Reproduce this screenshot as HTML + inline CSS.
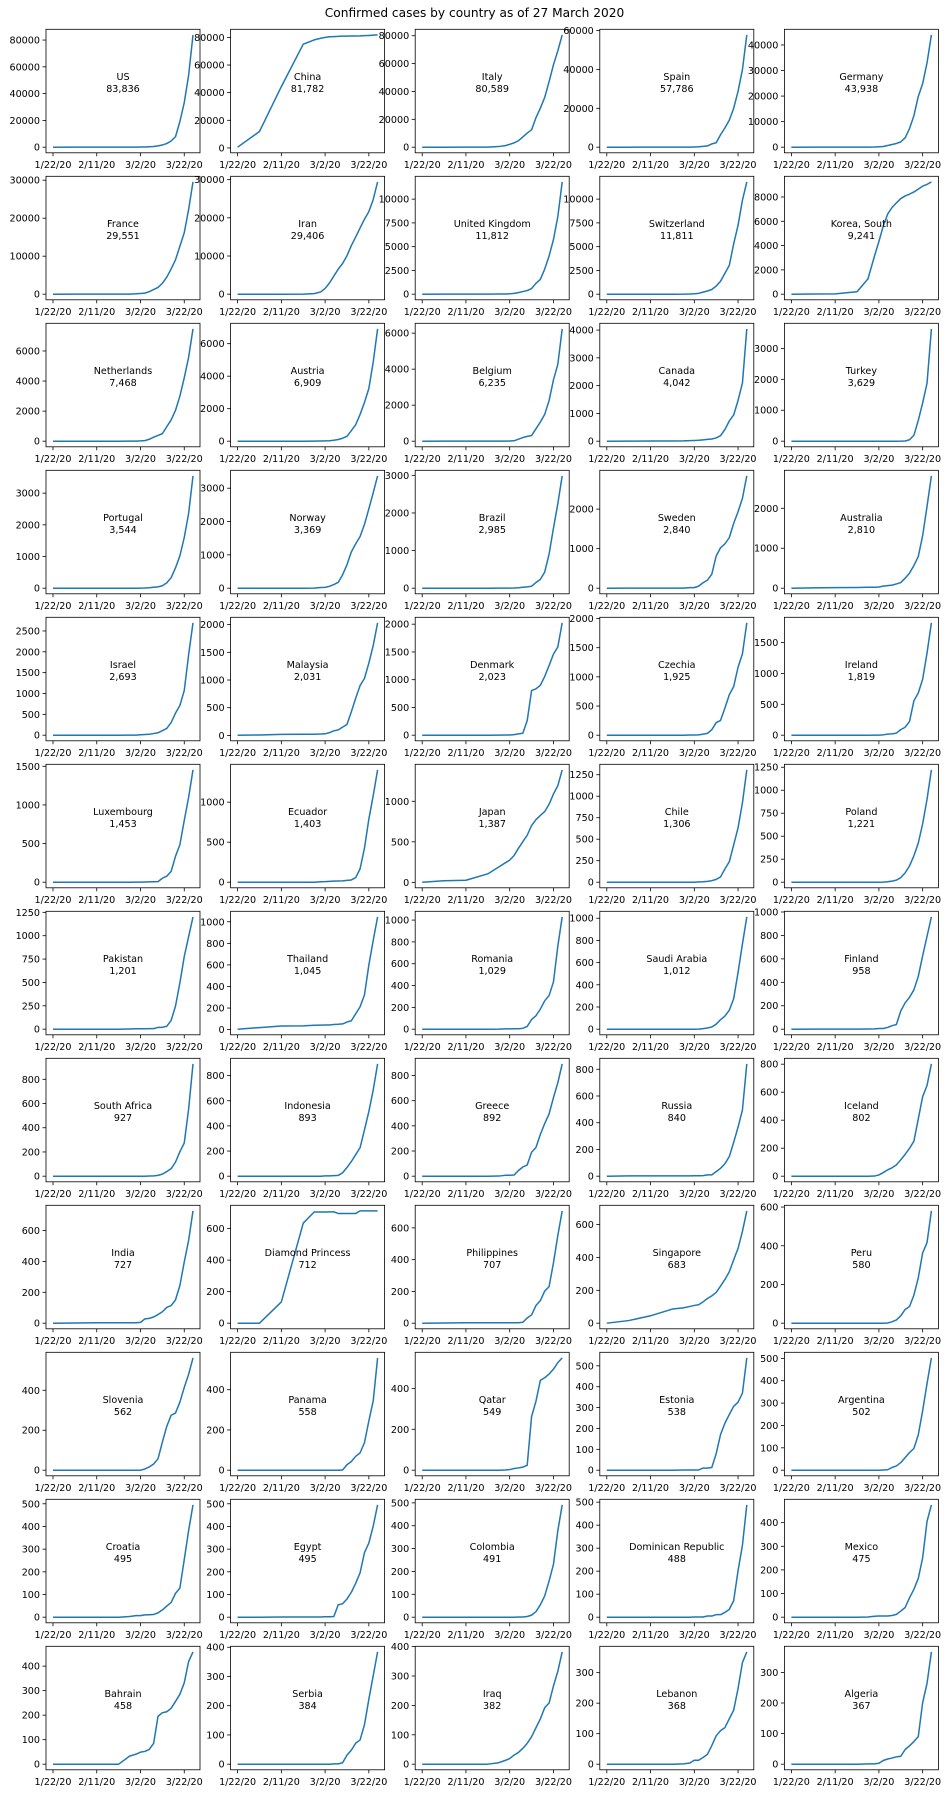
<!DOCTYPE html>
<html><head><meta charset="utf-8"><style>
html,body{margin:0;padding:0;background:#fff;}
svg{display:block;font-family:"DejaVu Sans","Liberation Sans",sans-serif;}
</style></head><body>
<svg id="fig" width="949" height="1793" viewBox="0 0 949 1793" xmlns="http://www.w3.org/2000/svg">
<rect width="949" height="1793" fill="#fff"/>
<text x="474.5" y="17" text-anchor="middle" font-size="12.2" fill="#000">Confirmed cases by country as of 27 March 2020</text>
</svg>
<script>
// sample day indices (days since 1/22/20)
const sampleDays = [0,10,20,30,35,38,40,42,44,46,48,50,52,54,56,58,60,62,64];
const xTickDays = [0,20,40,60];
const xTickLabels = ["1/22/20","2/11/20","3/2/20","3/22/20"];
const countries = ["US","China","Italy","Spain","Germany","France","Iran","United Kingdom","Switzerland","Korea, South","Netherlands","Austria","Belgium","Canada","Turkey","Portugal","Norway","Brazil","Sweden","Australia","Israel","Malaysia","Denmark","Czechia","Ireland","Luxembourg","Ecuador","Japan","Chile","Poland","Pakistan","Thailand","Romania","Saudi Arabia","Finland","South Africa","Indonesia","Greece","Russia","Iceland","India","Diamond Princess","Philippines","Singapore","Peru","Slovenia","Panama","Qatar","Estonia","Argentina","Croatia","Egypt","Colombia","Dominican Republic","Mexico","Bahrain","Serbia","Iraq","Lebanon","Algeria"];
const sUS = [1,8,13,15,57,68,100,158,319,537,959,1663,2727,4632,7783,19100,33276,53740,83836];
const sChina = [548,11891,44386,75077,78166,79356,80026,80422,80573,80735,80908,80932,81003,81033,81102,81250,81397,81591,81782];
const sItaly = [0,0,3,20,453,1128,2036,3089,4636,7375,10149,12462,21157,27980,35713,47021,59138,69176,80589];
const sSpain = [0,0,2,2,13,45,120,222,400,673,1695,2277,6391,9942,13910,19980,28768,39885,57786];
const sGermany = [0,8,16,16,27,79,159,262,670,1040,1457,2078,3675,7272,12327,19848,24873,32986,43938];
const sFrance = [0,6,11,12,18,100,191,285,656,1209,1787,2876,4480,6650,9052,12612,16176,22304,29551];
const sIran = [0,0,0,5,139,593,1501,2922,4747,6566,8042,10075,12729,14991,17361,19644,21638,24811,29406];
const sUK = [0,2,8,9,13,23,40,86,164,274,383,596,1143,1551,2642,4014,5745,8164,11812];
const sSwitzerland = [0,0,0,0,1,18,42,90,214,337,491,858,1359,2200,3028,5294,7245,9877,11811];
const sKorea = [1,12,28,204,1261,3150,4335,5621,6593,7134,7513,7869,8086,8236,8413,8652,8897,9037,9241];
const sNetherlands = [0,0,0,0,1,6,18,38,128,265,382,503,959,1414,2051,2994,4216,5585,7468];
const sAustria = [0,0,0,0,2,9,18,29,55,104,182,302,655,1018,1646,2388,3244,4876,6909];
const sBelgium = [0,1,1,1,1,1,8,23,109,200,267,314,689,1058,1486,2257,3401,4269,6235];
const sCanada = [0,2,5,8,11,20,27,33,49,64,79,117,198,424,727,943,1465,2088,4042];
const sTurkey = [0,0,0,0,0,0,0,0,0,0,0,1,5,47,191,670,1236,1872,3629];
const sPortugal = [0,0,0,0,0,0,2,5,13,30,41,78,169,331,642,1020,1600,2362,3544];
const sNorway = [0,0,0,0,1,19,25,56,108,176,400,702,1090,1333,1550,1914,2383,2866,3369];
const sBrazil = [0,0,0,0,1,2,2,4,13,25,34,52,151,234,428,904,1593,2247,2985];
const sSweden = [0,1,1,1,2,13,14,52,137,203,355,814,1022,1121,1279,1639,1934,2272,2840];
const sAustralia = [0,9,15,17,22,25,30,52,63,76,107,140,250,377,568,791,1314,2044,2810];
const sIsrael = [0,0,0,0,1,2,10,15,21,39,58,109,161,304,529,712,1071,1930,2693];
const sMalaysia = [4,8,18,22,22,25,29,50,83,99,149,197,428,673,900,1030,1306,1624,2031];
const sDenmark = [0,0,0,0,1,3,4,10,23,35,262,804,836,898,1057,1255,1460,1591,2023];
const sCzechia = [0,0,0,0,0,3,3,5,19,31,94,214,253,464,694,833,1165,1394,1925];
const sIreland = [0,0,0,0,0,1,1,6,18,21,34,90,129,223,557,683,906,1329,1819];
const sLuxembourg = [0,0,0,0,0,1,1,2,4,5,7,51,77,140,335,484,798,1099,1453];
const sEcuador = [0,0,0,0,0,6,7,10,14,15,17,23,28,58,168,426,789,1082,1403];
const sJapan = [2,20,26,105,189,241,274,331,420,502,581,701,773,825,873,963,1089,1193,1387];
const sChile = [0,0,0,0,0,0,0,3,5,10,17,33,61,155,238,434,632,922,1306];
const sPoland = [0,0,0,0,0,0,0,1,5,11,22,49,101,177,287,425,634,901,1221];
const sPakistan = [0,0,0,0,2,4,5,5,6,6,19,20,31,94,247,495,776,991,1201];
const sThailand = [4,19,33,35,40,42,43,43,48,50,53,70,82,147,212,322,599,827,1045];
const sRomania = [0,0,0,0,1,3,3,4,4,8,25,89,123,184,260,308,433,762,1029];
const sSaudi = [0,0,0,0,0,0,0,1,5,11,20,45,86,118,171,274,511,767,1012];
const sFinland = [0,1,1,1,2,3,6,6,15,30,40,155,225,272,336,450,626,792,958];
const sSouthAfrica = [0,0,0,0,0,0,0,0,2,3,7,17,38,62,116,202,274,554,927];
const sIndonesia = [0,0,0,0,0,0,2,2,4,6,27,69,117,172,227,369,514,686,893];
const sGreece = [0,0,0,0,1,7,7,9,45,73,89,190,228,331,418,495,624,743,892];
const sRussia = [0,2,2,2,2,2,3,3,4,10,10,34,59,93,147,253,367,495,840];
const sIceland = [0,0,0,0,0,1,9,26,45,60,81,117,156,199,250,409,568,648,802];
const sIndia = [0,1,3,3,3,3,5,28,31,40,56,74,102,114,151,244,396,536,727];
const sDiamond = [0,0,135,634,705,705,705,706,706,696,696,696,696,696,712,712,712,712,712];
const sPhilippines = [0,1,3,3,3,3,3,3,3,6,33,52,111,142,202,230,380,552,707];
const sSingapore = [0,16,45,86,93,102,108,112,130,150,166,187,226,266,313,385,455,558,683];
const sPeru = [0,0,0,0,0,0,0,0,1,7,17,38,71,86,145,234,363,416,580];
const sSlovenia = [0,0,0,0,0,0,0,6,16,31,57,141,219,275,286,341,414,480,562];
const sPanama = [0,0,0,0,0,0,0,0,0,0,1,27,43,69,86,137,245,345,558];
const sQatar = [0,0,0,0,0,1,3,8,11,15,24,262,337,439,452,470,494,526,549];
const sEstonia = [0,0,0,0,1,1,1,1,10,10,13,79,171,225,267,306,326,369,538];
const sArgentina = [0,0,0,0,0,0,0,1,2,12,19,34,56,79,97,158,266,387,502];
const sCroatia = [0,0,0,0,3,7,7,10,11,12,19,32,49,65,105,128,254,382,495];
const sEgypt = [0,0,1,1,1,1,2,2,3,55,59,80,110,150,196,285,327,402,495];
const sColombia = [0,0,0,0,0,0,0,0,1,1,3,9,24,54,93,158,231,378,491];
const sDominican = [0,0,0,0,0,0,1,1,1,5,5,11,11,21,34,72,202,312,488];
const sMexico = [0,0,0,0,1,4,5,5,5,7,12,26,41,82,118,164,251,405,475];
const sBahrain = [0,0,0,0,33,41,49,52,60,85,195,210,214,228,256,285,332,419,458];
const sSerbia = [0,0,0,0,0,0,0,0,1,1,5,31,48,72,83,135,222,303,384];
const sIraq = [0,0,0,0,5,13,19,31,40,54,71,93,124,154,192,208,266,316,382];
const sLebanon = [0,0,0,0,1,4,13,13,22,32,61,93,110,120,149,177,248,333,368];
const sAlgeria = [0,0,0,0,1,1,3,12,17,20,24,26,48,60,74,90,201,264,367];
const series = [sUS,sChina,sItaly,sSpain,sGermany,sFrance,sIran,sUK,sSwitzerland,sKorea,sNetherlands,sAustria,sBelgium,sCanada,sTurkey,sPortugal,sNorway,sBrazil,sSweden,sAustralia,sIsrael,sMalaysia,sDenmark,sCzechia,sIreland,sLuxembourg,sEcuador,sJapan,sChile,sPoland,sPakistan,sThailand,sRomania,sSaudi,sFinland,sSouthAfrica,sIndonesia,sGreece,sRussia,sIceland,sIndia,sDiamond,sPhilippines,sSingapore,sPeru,sSlovenia,sPanama,sQatar,sEstonia,sArgentina,sCroatia,sEgypt,sColombia,sDominican,sMexico,sBahrain,sSerbia,sIraq,sLebanon,sAlgeria];

const NS = "http://www.w3.org/2000/svg";
const svg = document.getElementById("fig");
const AX_L0 = 46, AX_T0 = 29.3, COLP = 184.6, ROWP = 147, AW = 154, AH = 123.5;
const FS = 9.6;
function mk(tag, attrs, parent) {
  const e = document.createElementNS(NS, tag);
  for (const k in attrs) e.setAttribute(k, attrs[k]);
  (parent || svg).appendChild(e);
  return e;
}
function niceTicks(lo, hi) {
  const raw = (hi - lo) / 6;
  const scale = Math.pow(10, Math.floor(Math.log10(raw)));
  const steps = [1, 2, 2.5, 5, 10];
  let step = 10 * scale;
  for (const s of steps) { if (s * scale >= raw - 1e-9) { step = s * scale; break; } }
  const out = [];
  for (let v = Math.ceil(lo / step) * step; v <= hi + 1e-9; v += step) out.push(Math.round(v * 1000) / 1000);
  return out;
}
countries.forEach((name, i) => {
  const vals = series[i];
  const col = i % 5, row = Math.floor(i / 5);
  const L = AX_L0 + col * COLP, T = AX_T0 + row * ROWP;
  const g = mk("g", {});
  
  
  const x0 = -3.2, x1 = 67.2;
  const vmin = Math.min(...vals), vmax = Math.max(...vals);
  const pad = (vmax - vmin) * 0.05;
  const y0 = vmin - pad, y1 = vmax + pad;
  const xs = d => L + (d - x0) / (x1 - x0) * AW;
  const ys = v => T + AH - (v - y0) / (y1 - y0) * AH;
  // line
  const pts = vals.map((v, k) => xs(sampleDays[k]).toFixed(2) + "," + ys(v).toFixed(2)).join(" ");
  const line = mk("polyline", {points: pts, fill: "none", stroke: "#1f77b4", "stroke-width": 1.5, "stroke-linejoin": "round"}, g);
  
  
  // frame
  const fr = mk("rect", {x: L, y: T, width: AW, height: AH, fill: "none", stroke: "#000", "stroke-width": 0.8}, g);
  
  
  // y ticks
  niceTicks(y0, y1).forEach(v => {
    const y = ys(v);
    mk("line", {x1: L - 3.5, x2: L, y1: y, y2: y, stroke: "#000", "stroke-width": 0.8}, g);
    const t = mk("text", {x: L - 6, y: y + 3.5, "text-anchor": "end", "font-size": FS, fill: "#000"}, g);
    
    
    t.textContent = String(v);
  });
  // x ticks
  xTickDays.forEach((d, k) => {
    const x = xs(d);
    mk("line", {x1: x, x2: x, y1: T + AH, y2: T + AH + 3.5, stroke: "#000", "stroke-width": 0.8}, g);
    const t = mk("text", {x: x, y: T + AH + 15, "text-anchor": "middle", "font-size": FS, fill: "#000"}, g);
    
    
    t.textContent = xTickLabels[k];
  });
  // label
  const cx = L + AW / 2, cy = T + AH * 0.43;
  const t1 = mk("text", {x: cx, y: cy - 2.5, "text-anchor": "middle", "font-size": FS, fill: "#000"}, g);
  
  
  t1.textContent = name;
  const t2 = mk("text", {x: cx, y: cy + 9.5, "text-anchor": "middle", "font-size": FS, fill: "#000"}, g);
  
  
  t2.textContent = vals[vals.length - 1].toLocaleString("en-US");
});
</script>
</body></html>
